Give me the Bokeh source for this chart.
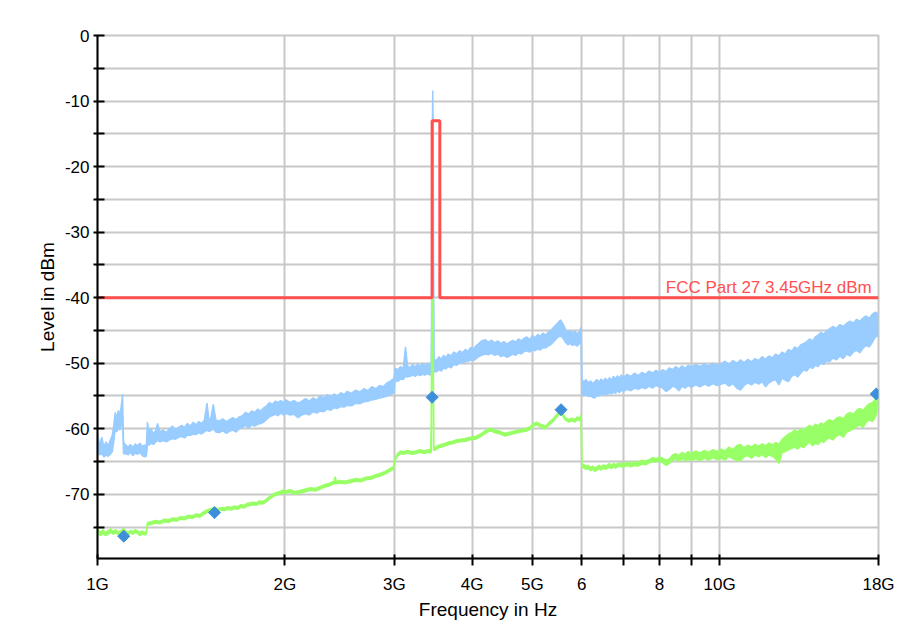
from math import pi
from bokeh.plotting import figure
from bokeh.models import Range1d, FixedTicker, Label
from bokeh.embed import file_html
from bokeh.resources import INLINE

# ---------------- data (frequencies in GHz, levels in dBm) ----------------
blue_f = [1.000, 1.008, 1.016, 1.024, 1.032, 1.040, 1.048, 1.056, 1.062, 1.068, 1.074, 1.080, 1.086, 1.092, 1.097, 1.101,
          1.110, 1.120, 1.130, 1.140, 1.150, 1.160, 1.170, 1.180, 1.190, 1.198,
          1.203, 1.210, 1.220, 1.230, 1.240, 1.249, 1.260, 1.275, 1.290, 1.305, 1.320, 1.335, 1.350, 1.365, 1.380, 1.395,
          1.410, 1.425, 1.440, 1.455, 1.470, 1.485, 1.500, 1.510, 1.520, 1.535, 1.550, 1.570, 1.590, 1.610, 1.630, 1.650,
          1.670, 1.690, 1.710, 1.730, 1.750, 1.770, 1.790, 1.810, 1.830, 1.850, 1.870, 1.890, 1.910, 1.930, 1.950, 1.970,
          1.990, 2.010, 2.040, 2.070, 2.100, 2.130, 2.160, 2.190, 2.220, 2.250, 2.280, 2.310, 2.340, 2.370, 2.400, 2.430,
          2.460, 2.490, 2.520, 2.560, 2.600, 2.640, 2.680, 2.720, 2.760, 2.800, 2.840, 2.880, 2.920, 2.960, 2.995,
          3.010, 3.040, 3.070, 3.100, 3.126, 3.150, 3.180, 3.210, 3.240, 3.270, 3.300, 3.330, 3.360, 3.390, 3.420, 3.440,
          3.452, 3.458, 3.464, 3.474,
          3.510, 3.540, 3.570, 3.600, 3.630, 3.660, 3.700, 3.740, 3.780, 3.820, 3.860, 3.900, 3.940, 3.980, 4.020, 4.060,
          4.100, 4.140, 4.200, 4.250, 4.300, 4.350, 4.400, 4.450, 4.500, 4.550, 4.600, 4.650, 4.700, 4.750, 4.800, 4.850,
          4.900, 4.950, 5.000, 5.050, 5.100, 5.150, 5.200, 5.250, 5.300, 5.350, 5.400, 5.450, 5.500, 5.550, 5.600, 5.650,
          5.700, 5.750, 5.800, 5.850, 5.900, 5.950, 5.990,
          6.005, 6.050, 6.100, 6.150, 6.200, 6.250, 6.300, 6.350, 6.400, 6.450, 6.500, 6.550, 6.600, 6.650, 6.700, 6.750,
          6.800, 6.850, 6.900, 6.950, 7.000, 7.100, 7.200, 7.300, 7.400, 7.500, 7.600, 7.700, 7.800, 7.900, 8.000, 8.100,
          8.200, 8.300, 8.400, 8.500, 8.600, 8.700, 8.800, 8.900, 9.000, 9.150, 9.300, 9.450, 9.600, 9.750, 9.900, 10.05,
          10.20, 10.35, 10.50, 10.65, 10.80, 10.95, 11.10, 11.25, 11.40, 11.55, 11.70, 11.85, 12.00, 12.15, 12.30, 12.45,
          12.60, 12.75, 12.90, 13.05, 13.20, 13.35, 13.50, 13.65, 13.80, 13.95, 14.10, 14.25, 14.40, 14.55, 14.70, 14.85,
          15.00, 15.20, 15.40, 15.60, 15.80, 16.00, 16.20, 16.40, 16.60, 16.80, 17.00, 17.20, 17.40, 17.60, 17.80, 18.00]

blue_hi = [-60.8, -62.5, -61.3, -62.8, -62.0, -62.6, -61.8, -61.0, -59.5, -57.5, -58.5, -57.2, -58.0, -56.5, -54.7, -62.0,
           -62.5, -62.8, -62.4, -62.9, -62.3, -62.6, -62.2, -62.7, -62.5, -62.6,
           -59.0, -60.5, -60.0, -60.8, -60.3, -59.2, -60.5, -60.2, -60.6, -60.0, -59.6, -60.2, -59.8, -59.5, -59.8, -59.2,
           -59.6, -59.0, -59.4, -58.9, -59.2, -58.7, -56.1, -58.6, -58.5, -56.3, -58.7, -58.8, -58.5, -58.9, -58.6, -58.3,
           -58.6, -58.2, -58.0, -57.5, -57.8, -57.3, -57.5, -57.0, -57.3, -56.8, -56.5, -56.0, -56.3, -55.8, -56.0, -55.7,
           -56.0, -55.6, -56.0, -55.7, -56.1, -55.8, -55.4, -55.8, -55.3, -55.6, -55.0, -55.3, -54.8, -55.2, -54.7, -55.0,
           -54.5, -54.8, -54.3, -54.6, -54.1, -54.4, -53.9, -54.2, -53.6, -53.9, -53.4, -53.6, -53.0, -52.7, -52.3,
           -50.8, -51.0, -50.5, -50.9, -47.5, -50.4, -50.7, -50.2, -50.6, -50.1, -50.5, -50.0, -50.4, -50.0, -50.3, -49.8,
           -15.0, -8.4, -15.0, -49.5,
           -49.5, -49.0, -49.4, -48.8, -49.2, -48.6, -48.9, -48.3, -48.6, -48.1, -48.4, -47.9, -48.2, -47.6, -47.9, -47.3,
           -47.0, -46.6, -46.4, -46.8, -46.5, -46.9, -46.6, -47.0, -46.7, -47.1, -46.8, -46.5, -46.8, -46.3, -46.6, -46.2,
           -46.0, -46.4, -45.8, -46.1, -45.6, -45.9, -45.4, -45.7, -45.3, -45.0, -44.6, -44.2, -43.8, -43.4, -44.0, -44.8,
           -45.3, -45.0, -45.4, -45.1, -45.5, -45.2, -44.5,
           -52.6, -52.8, -52.5, -53.0, -52.7, -53.1, -52.8, -52.5, -52.9, -52.4, -52.8, -52.3, -52.7, -52.2, -52.6, -52.0,
           -52.4, -51.9, -52.3, -51.8, -52.2, -51.7, -52.0, -51.5, -51.9, -51.4, -51.7, -51.2, -51.5, -51.1, -51.4, -51.0,
           -51.3, -50.7, -51.0, -50.5, -50.9, -50.4, -50.8, -50.3, -50.6, -50.2, -50.5, -50.1, -50.4, -50.0, -50.3, -50.1,
           -49.7, -50.2, -49.6, -50.0, -49.5, -49.9, -49.4, -49.8, -49.3, -49.6, -49.0, -49.4, -48.9, -49.2, -48.6, -48.9,
           -48.3, -48.6, -47.9, -48.2, -47.5, -47.8, -47.2, -47.0, -46.7, -46.3, -46.6, -46.0, -45.7, -45.3, -45.6, -45.0,
           -44.8, -44.4, -44.7, -44.1, -44.4, -43.9, -43.6, -43.9, -43.3, -43.6, -43.1, -42.8, -43.2, -42.5, -42.2, -42.5]

blue_lo = [-63.5, -64.0, -63.8, -64.3, -64.0, -64.2, -63.9, -63.5, -62.0, -60.0, -60.5, -59.8, -60.2, -59.5, -58.0, -63.8,
           -63.8, -64.0, -63.6, -64.1, -63.7, -63.9, -63.6, -64.1, -64.3, -64.2,
           -62.5, -62.5, -62.2, -62.4, -62.0, -61.8, -62.0, -61.8, -62.0, -61.7, -61.5, -61.6, -61.3, -61.2, -61.4, -61.0,
           -61.0, -60.8, -60.9, -60.6, -60.8, -60.5, -60.2, -60.4, -60.3, -60.0, -60.5, -60.6, -60.3, -60.7, -60.4, -60.2,
           -60.5, -60.0, -59.8, -59.5, -59.9, -59.4, -59.6, -59.3, -59.2, -59.0, -58.6, -58.2, -58.0, -57.8, -58.0, -57.6,
           -57.9, -57.7, -57.9, -57.8, -58.3, -57.9, -57.7, -57.9, -57.4, -57.6, -57.3, -57.4, -57.0, -57.2, -56.8, -56.9,
           -56.6, -56.7, -56.4, -56.5, -56.1, -56.2, -55.9, -55.8, -55.6, -55.5, -55.3, -55.2, -55.0, -54.8, -54.5,
           -52.6, -52.8, -52.4, -52.5, -52.0, -52.1, -52.0, -51.8, -52.0, -51.7, -51.9, -51.7, -51.8, -51.6, -51.8, -51.5,
           -40.0, -12.0, -40.0, -51.3,
           -51.3, -51.0, -51.2, -50.7, -50.9, -50.5, -50.7, -50.2, -50.3, -49.9, -50.0, -49.8, -49.7, -49.5, -49.6, -49.3,
           -49.0, -48.8, -48.6, -48.7, -48.5, -48.8, -48.6, -49.0, -48.8, -49.1, -48.9, -48.6, -48.8, -48.4, -48.6, -48.2,
           -48.1, -48.3, -48.0, -48.1, -47.8, -48.0, -47.6, -47.7, -47.4, -47.2, -46.8, -46.4, -46.0, -45.8, -46.2, -46.8,
           -47.2, -47.0, -47.3, -47.1, -47.4, -47.0, -46.8,
           -54.8, -55.0, -54.7, -55.1, -55.0, -55.2, -55.3, -54.9, -55.0, -54.7, -54.9, -54.6, -54.8, -54.5, -54.7, -54.4,
           -54.6, -54.2, -54.5, -54.1, -54.3, -54.0, -54.2, -53.8, -54.0, -53.7, -53.9, -53.5, -53.8, -53.4, -53.6, -53.8,
           -54.3, -54.0, -53.5, -53.7, -54.2, -53.5, -53.8, -53.4, -53.7, -53.3, -53.6, -53.2, -53.5, -53.1, -53.4, -53.2,
           -53.0, -53.5, -53.1, -53.8, -54.1, -53.4, -53.0, -53.3, -52.9, -53.2, -52.8, -53.6, -53.0, -52.7, -52.5, -53.3,
           -52.3, -52.6, -52.8, -52.0, -51.7, -52.1, -51.5, -51.0, -51.2, -50.6, -50.8, -50.3, -50.5, -49.9, -50.2, -49.6,
           -49.8, -49.2, -49.5, -48.9, -49.3, -48.6, -48.9, -48.3, -48.0, -48.4, -47.7, -47.3, -47.5, -46.8, -46.0, -45.8]

green_f = [1.000, 1.010, 1.020, 1.030, 1.040, 1.050, 1.060, 1.070, 1.080, 1.090, 1.100, 1.110, 1.120, 1.130, 1.140, 1.150,
           1.160, 1.170, 1.180, 1.190, 1.198,
           1.203, 1.220, 1.240, 1.260, 1.280, 1.300, 1.320, 1.340, 1.360, 1.380, 1.400, 1.420, 1.440, 1.460, 1.480, 1.500,
           1.520, 1.540, 1.560, 1.580, 1.600, 1.620, 1.640, 1.660, 1.680, 1.700, 1.720, 1.740, 1.760, 1.780, 1.800, 1.820,
           1.840, 1.860, 1.880, 1.900, 1.920, 1.940, 1.960, 1.980, 2.000, 2.040, 2.080, 2.120, 2.160, 2.200, 2.240, 2.280,
           2.320, 2.360, 2.400, 2.410, 2.420, 2.460, 2.500, 2.550, 2.600, 2.650, 2.700, 2.750, 2.800, 2.850, 2.900, 2.950,
           2.990, 3.010, 3.040, 3.070, 3.100, 3.150, 3.200, 3.250, 3.300, 3.350, 3.400, 3.430,
           3.440, 3.446, 3.462, 3.470,
           3.480, 3.520, 3.570, 3.620, 3.670, 3.720, 3.770, 3.830, 3.900, 3.970, 4.050, 4.130, 4.200, 4.280, 4.350, 4.440,
           4.520, 4.610, 4.700, 4.790, 4.880, 4.960, 5.020, 5.080, 5.150, 5.250, 5.320, 5.400, 5.450, 5.500, 5.550, 5.600,
           5.650, 5.720, 5.780, 5.850, 5.900, 5.950, 5.990,
           6.005, 6.050, 6.100, 6.150, 6.200, 6.250, 6.300, 6.350, 6.400, 6.450, 6.500, 6.550, 6.600, 6.650, 6.700, 6.750,
           6.800, 6.900, 7.000, 7.100, 7.200, 7.300, 7.400, 7.500, 7.600, 7.700, 7.800, 7.900, 8.000, 8.100, 8.200, 8.300,
           8.400, 8.500, 8.600, 8.700, 8.800, 8.900, 9.000, 9.150, 9.300, 9.450, 9.600, 9.750, 9.900, 10.05, 10.20, 10.35,
           10.50, 10.65, 10.80, 10.95, 11.10, 11.25, 11.40, 11.55, 11.70, 11.85, 12.00, 12.15, 12.30, 12.45, 12.60, 12.75,
           12.90, 13.05, 13.20, 13.35, 13.50, 13.65, 13.80, 13.95, 14.10, 14.25, 14.40, 14.55, 14.70, 14.85, 15.00, 15.20,
           15.40, 15.60, 15.80, 16.00, 16.20, 16.40, 16.60, 16.80, 17.00, 17.20, 17.40, 17.60, 17.80, 18.00]

green_hi = [-75.3, -75.8, -75.4, -75.9, -75.5, -75.3, -75.7, -75.4, -75.8, -75.6, -75.2, -75.6, -75.8, -75.5, -75.7, -75.4,
            -75.6, -75.8, -75.6, -75.8, -75.7,
            -74.3, -74.2, -74.0, -74.1, -73.8, -73.9, -73.6, -73.7, -73.4, -73.5, -73.2, -73.3, -73.0, -73.1, -72.7, -72.4,
            -72.2, -72.0, -72.2, -72.0, -72.1, -71.9, -72.0, -71.8, -71.9, -71.6, -71.7, -71.4, -71.3, -71.2, -71.3, -71.0,
            -71.1, -70.9, -70.5, -70.2, -69.9, -69.7, -69.6, -69.4, -69.5, -69.3, -69.6, -69.4, -69.2, -69.0, -69.1, -68.8,
            -68.5, -68.3, -68.0, -67.3, -68.0, -67.9, -68.0, -67.8, -67.6, -67.7, -67.4, -67.3, -67.0, -66.8, -66.5, -66.1,
            -65.8, -64.4, -63.7, -63.4, -63.5, -63.3, -63.5, -63.4, -63.2, -63.4, -63.2, -63.3,
            -60.0, -39.5, -39.5, -62.8,
            -62.9, -62.6, -62.4, -62.2, -62.0, -61.9, -61.7, -61.6, -61.5, -61.3, -61.2, -60.8, -60.3, -59.9, -60.2, -60.4,
            -60.7, -60.5, -60.3, -60.1, -60.0, -59.7, -59.2, -59.0, -59.3, -59.6, -59.0, -58.5, -58.0, -57.6, -57.0, -57.7,
            -58.3, -58.6, -58.4, -58.6, -58.2, -58.4, -57.9,
            -65.4, -65.5, -65.7, -65.6, -65.9, -65.7, -66.0, -65.8, -65.6, -65.8, -65.5, -65.7, -65.5, -65.3, -65.6, -65.3,
            -65.5, -65.2, -65.4, -65.1, -65.3, -65.0, -65.2, -64.8, -65.0, -64.7, -64.4, -64.6, -64.3, -64.5, -64.8, -64.6,
            -64.0, -63.8, -64.1, -63.6, -63.9, -63.5, -63.8, -63.4, -63.7, -63.3, -63.6, -63.2, -63.5, -63.1, -63.4, -62.8,
            -63.2, -62.6, -62.4, -62.9, -62.5, -62.8, -62.4, -62.7, -62.3, -62.6, -62.2, -62.5, -62.1, -62.4, -61.6, -61.2,
            -60.8, -60.6, -60.2, -60.5, -60.0, -60.3, -59.8, -59.5, -59.8, -59.3, -59.6, -59.1, -59.4, -58.9, -58.6, -58.9,
            -58.4, -58.2, -58.5, -57.8, -57.5, -57.8, -57.2, -56.9, -57.2, -56.6, -56.2, -56.0, -55.5, -55.0]

green_lo = [-75.9, -76.3, -76.0, -76.3, -76.1, -75.8, -76.1, -75.9, -76.2, -76.0, -75.7, -76.0, -76.2, -75.9, -76.1, -75.8,
            -76.0, -76.3, -76.0, -76.2, -76.1,
            -74.7, -74.6, -74.4, -74.5, -74.2, -74.3, -74.0, -74.1, -73.8, -73.9, -73.6, -73.7, -73.4, -73.5, -73.1, -72.8,
            -72.6, -72.4, -72.6, -72.4, -72.5, -72.3, -72.4, -72.2, -72.3, -72.0, -72.1, -71.8, -71.7, -71.6, -71.7, -71.4,
            -71.5, -71.3, -70.9, -70.6, -70.3, -70.1, -70.0, -69.8, -69.9, -69.7, -70.0, -69.8, -69.6, -69.4, -69.5, -69.2,
            -68.9, -68.7, -68.4, -68.3, -68.4, -68.3, -68.4, -68.2, -68.0, -68.1, -67.8, -67.7, -67.4, -67.2, -66.9, -66.5,
            -66.2, -64.8, -64.1, -63.8, -63.9, -63.7, -63.9, -63.8, -63.6, -63.8, -63.6, -63.7,
            -63.5, -45.0, -45.0, -63.3,
            -63.3, -63.0, -62.8, -62.6, -62.4, -62.3, -62.1, -62.0, -61.9, -61.7, -61.6, -61.2, -60.7, -60.3, -60.6, -60.8,
            -61.1, -60.9, -60.7, -60.5, -60.4, -60.1, -59.6, -59.4, -59.7, -60.0, -59.4, -58.9, -58.4, -58.0, -57.4, -58.1,
            -58.7, -59.0, -58.8, -59.0, -58.6, -58.8, -58.3,
            -65.9, -66.0, -66.2, -66.1, -66.4, -66.2, -66.5, -66.3, -66.1, -66.3, -66.0, -66.2, -66.0, -65.9, -66.1, -65.8,
            -66.0, -65.7, -65.9, -65.6, -65.8, -65.6, -65.7, -65.4, -65.5, -65.2, -65.0, -65.1, -64.9, -65.2, -65.6, -65.3,
            -64.8, -64.6, -65.0, -64.5, -64.9, -64.7, -64.8, -64.6, -64.9, -64.5, -64.8, -64.4, -64.7, -64.5, -64.8, -64.2,
            -64.6, -64.8, -64.9, -64.3, -64.1, -64.5, -64.0, -64.3, -63.9, -64.4, -64.0, -64.2, -64.6, -65.3, -63.6, -63.5,
            -63.2, -63.0, -62.8, -63.1, -62.6, -62.9, -62.4, -62.0, -62.6, -62.2, -62.4, -61.8, -62.1, -61.6, -61.4, -61.7,
            -61.1, -60.9, -61.3, -60.5, -60.3, -60.0, -59.7, -59.4, -59.8, -59.0, -58.6, -58.9, -58.2, -56.5]

limit_f = [1.0, 3.45, 3.55, 18.0]
limit_db = [-40.0, -13.0, -40.0, -40.0]
limit_name = "FCC Part 27 3.45GHz  dBm"

marker_f = [1.102, 1.542, 3.450, 5.560, 17.85]
marker_db = [-76.4, -72.8, -55.2, -57.1, -54.7]

x_ticks = [1, 2, 3, 4, 5, 6, 7, 8, 9, 10, 18]
x_tick_labels = ["1G", "2G", "3G", "4G", "5G", "6", "", "8", "", "10G", "18G"]
y_ticks = [-75, -70, -65, -60, -55, -50, -45, -40, -35, -30, -25, -20, -15, -10, -5, 0]
y_tick_labels = ["", "-70", "", "-60", "", "-50", "", "-40", "", "-30", "", "-20", "", "-10", "", "0"]

# ---------------- styling ----------------
FONT = "Liberation Sans"
BLUE = "#99CCFF"
GREEN = "#99FF66"
RED = "#FF5050"
MARK = "#3D8FD9"
GRID = "#C8C8C8"

p = figure(width=914, height=625, x_axis_type="log",
           x_range=Range1d(1, 18), y_range=Range1d(-79.8, 0),
           output_backend="svg", toolbar_location=None,
           min_border_left=97, min_border_right=36, min_border_top=35, min_border_bottom=67,
           background_fill_color="white", border_fill_color="white")

p.outline_line_color = GRID
p.outline_line_width = 2

p.xaxis.ticker = FixedTicker(ticks=x_ticks, minor_ticks=[])
p.xaxis.major_label_overrides = {t: l for t, l in zip(x_ticks, x_tick_labels)}
p.yaxis.ticker = FixedTicker(ticks=y_ticks, minor_ticks=[])
p.yaxis.major_label_overrides = {t: l for t, l in zip(y_ticks, y_tick_labels)}

for ax in (p.xaxis[0], p.yaxis[0]):
    ax.axis_line_color = "black"
    ax.axis_line_width = 2
    ax.major_tick_line_color = "black"
    ax.major_tick_line_width = 2
    ax.minor_tick_line_color = None
    ax.major_label_text_font = FONT
    ax.major_label_text_font_size = "17px"
    ax.major_label_text_color = "black"
    ax.axis_label_text_font = FONT
    ax.axis_label_text_font_size = "19px"
    ax.axis_label_text_font_style = "normal"
    ax.axis_label_text_color = "black"

p.xaxis.axis_label = "Frequency in Hz"
p.yaxis.axis_label = "Level in dBm"
p.xaxis.major_tick_in = 4
p.xaxis.major_tick_out = 7
p.yaxis.major_tick_in = 7
p.yaxis.major_tick_out = 4
p.xaxis.major_label_standoff = 9
p.yaxis.major_label_standoff = 4
p.xaxis.axis_label_standoff = 2
p.yaxis.axis_label_standoff = 4

p.xgrid.grid_line_color = GRID
p.ygrid.grid_line_color = GRID
p.xgrid.grid_line_width = 2
p.ygrid.grid_line_width = 2
p.xgrid.ticker = p.xaxis.ticker
p.ygrid.ticker = p.yaxis.ticker

# peak trace (band)
p.varea(x=blue_f, y1=blue_lo, y2=blue_hi, fill_color=BLUE)
p.line(blue_f, blue_hi, line_color=BLUE, line_width=1.5)
p.line(blue_f, blue_lo, line_color=BLUE, line_width=1.5)

# average trace
p.varea(x=green_f, y1=green_lo, y2=green_hi, fill_color=GREEN)
p.line(green_f, green_hi, line_color=GREEN, line_width=1.5)
p.line(green_f, green_lo, line_color=GREEN, line_width=1.5)

# limit line
p.step(limit_f, limit_db, mode="after", line_color=RED, line_width=3)
p.add_layout(Label(x=limit_f[-1], y=limit_db[-1], x_offset=-2, y_offset=1, text=limit_name,
                   text_align="right", text_baseline="bottom", text_color=RED,
                   text_font=FONT, text_font_size="17px", level="overlay"))

# final measurement markers
p.scatter(marker_f, marker_db, marker="square", angle=pi / 4, size=8.5, fill_color=MARK, line_color=MARK)

open("out.html", "w").write(file_html(p, INLINE))
